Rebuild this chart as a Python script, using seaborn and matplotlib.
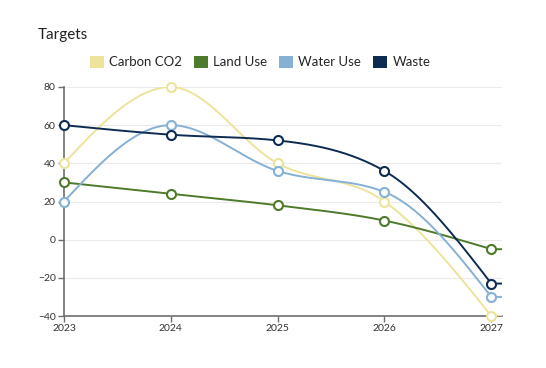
import numpy as np
import pandas as pd
import matplotlib
matplotlib.use("Agg")
import matplotlib.pyplot as plt
import seaborn as sns
from matplotlib.patches import Patch

years = [2023, 2024, 2025, 2026, 2027]
series_names = ["Carbon CO2", "Land Use", "Water Use", "Waste"]
carbon = [40, 80, 40, 20, -40]
land = [30, 24, 18, 10, -5]
water = [20, 60, 36, 25, -30]
waste = [60, 55, 52, 36, -23]
colors = ["#ece49a", "#4e7a2b", "#86b0d4", "#0e2c52"]
y_ticks = [-40, -20, 0, 20, 40, 60, 80]


def monotone(x, y, xs):
    x = np.asarray(x, float); y = np.asarray(y, float)
    h = np.diff(x); d = np.diff(y) / h
    n = len(x)
    m = np.zeros(n)
    for i in range(1, n - 1):
        if d[i - 1] * d[i] <= 0:
            m[i] = 0
        else:
            p = (d[i - 1] * h[i] + d[i] * h[i - 1]) / (h[i - 1] + h[i])
            m[i] = np.sign(d[i]) * min(abs(p), 2 * min(abs(d[i - 1]), abs(d[i])))
    m[0] = (3 * d[0] - m[1]) / 2 if n > 2 else d[0]
    m[-1] = (3 * d[-1] - m[-2]) / 2 if n > 2 else d[-1]
    for end, k in ((0, 0), (n - 1, n - 2)):
        if np.sign(m[end]) != np.sign(d[k]):
            m[end] = 0
        elif abs(m[end]) > 3 * abs(d[k]):
            m[end] = 3 * d[k]
    out = np.empty_like(xs, dtype=float)
    for j, xv in enumerate(xs):
        if xv >= x[-1]:
            out[j] = y[-1]; continue
        i = min(np.searchsorted(x, xv, side="right") - 1, n - 2)
        t = (xv - x[i]) / h[i]
        h00 = 2 * t**3 - 3 * t**2 + 1
        h10 = t**3 - 2 * t**2 + t
        h01 = -2 * t**3 + 3 * t**2
        h11 = t**3 - t**2
        out[j] = h00 * y[i] + h10 * h[i] * m[i] + h01 * y[i + 1] + h11 * h[i] * m[i + 1]
    return out


xmax = 2027.1
xs = np.linspace(2023, xmax, 600)
dense = []
pts = []
for name, vals in zip(series_names, [carbon, land, water, waste]):
    ys = monotone(years, vals, xs)
    dense.append(pd.DataFrame({"year": xs, "value": ys, "series": name}))
    pts.append(pd.DataFrame({"year": years, "value": vals, "series": name}))
dense = pd.concat(dense)
pts = pd.concat(pts)

sns.set_theme(style="white")
plt.rcParams["font.family"] = ["Lato", "DejaVu Sans"]

fig = plt.figure(figsize=(5.46, 3.68), dpi=100)
ax = fig.add_axes([64 / 546, 52 / 368, 438 / 546, 229 / 368])
palette = dict(zip(series_names, colors))

sns.lineplot(data=dense, x="year", y="value", hue="series", palette=palette,
             linewidth=1.4, legend=False, ax=ax, zorder=3)
for name in series_names:
    sub = pts[pts.series == name]
    ax.plot(sub.year, sub.value, linestyle="none", marker="o", markersize=6.5,
            markerfacecolor="white", markeredgecolor=palette[name],
            markeredgewidth=1.5, zorder=4, clip_on=False)

ax.set_xlim(2023, xmax)
ax.set_ylim(-40, 80)
ax.set_yticks(y_ticks)
ax.set_xticks(years)
ax.set_xticklabels([str(y) for y in years])
ax.grid(axis="y", color="#ebebeb", linewidth=0.8)
ax.set_axisbelow(True)
for s in ["top", "right"]:
    ax.spines[s].set_visible(False)
for s in ["left", "bottom"]:
    ax.spines[s].set_color("#6e6e6e")
    ax.spines[s].set_linewidth(1.2)
ax.tick_params(axis="both", length=4, width=1, color="#6e6e6e", labelsize=7.5,
               labelcolor="#333333", pad=2, bottom=True, left=True)
ax.set_xlabel("")
ax.set_ylabel("")

fig.text(38 / 546, 1 - 35 / 368, "Targets", fontsize=11, color="#222222",
         va="center", ha="left")
handles = [Patch(facecolor=c, edgecolor="none") for c in colors]
fig.legend(handles, series_names, loc="center", bbox_to_anchor=(260 / 546, 1 - 62 / 368),
           ncol=4, frameon=False, fontsize=9.5, handlelength=1.1, handleheight=1.1,
           handletextpad=0.4, columnspacing=0.85)

fig.savefig("out.png", dpi=100)
